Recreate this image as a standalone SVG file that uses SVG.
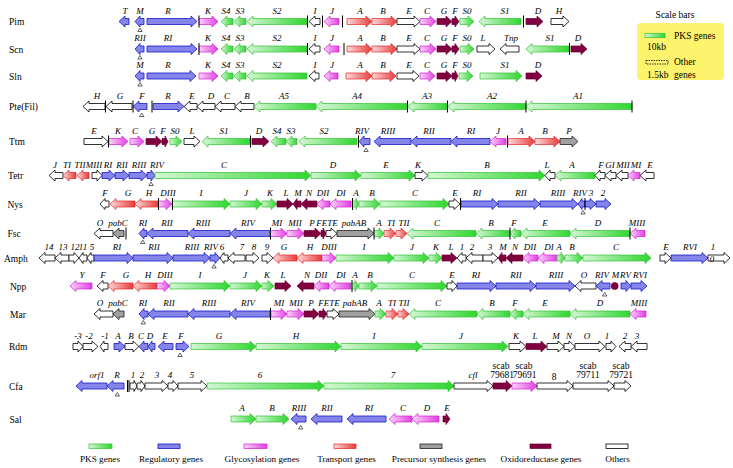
<svg xmlns="http://www.w3.org/2000/svg" width="733" height="468" viewBox="0 0 733 468">
<defs>
<linearGradient id="gPk"><stop offset="0" stop-color="#d4f7d4"/><stop offset="1" stop-color="#2fd62f"/></linearGradient>
<linearGradient id="gGl"><stop offset="0" stop-color="#fbd4fb"/><stop offset="1" stop-color="#e23ee2"/></linearGradient>
<linearGradient id="gTr"><stop offset="0" stop-color="#ffdada"/><stop offset="1" stop-color="#e83a3a"/></linearGradient>
<style>
.pk{fill:url(#gPk);stroke:#33c033;stroke-width:.7}
.rg{fill:#8484ea;stroke:#1818c8;stroke-width:.8}
.gl{fill:url(#gGl);stroke:#d020d0;stroke-width:.7}
.tr{fill:url(#gTr);stroke:#e02828;stroke-width:.7}
.ox{fill:#800040;stroke:#6a0030;stroke-width:.7}
.pr{fill:#a0a0a0;stroke:#202020;stroke-width:.8}
.ot{fill:#fff;stroke:#000;stroke-width:.8}
.bar{fill:none;stroke:#000;stroke-width:1}
.tri{fill:#fff;stroke:#000;stroke-width:.6}
text{font-family:"Liberation Serif","Times New Roman",serif;fill:#000}
.lb{font-size:9px;font-style:italic;text-anchor:middle}
.up{font-size:9.5px;text-anchor:middle}
.rn{font-size:9.5px}
.lg{font-size:9.2px;text-anchor:middle}
</style>
</defs>
<rect width="733" height="468" fill="#fff"/>

<g id="Pim" transform="translate(0,21.5)">
<text class="rn" x="9" y="3.5">Pim</text>
<path class="rg" d="M129,-3H125V-5.5L119,0L125,5.5V3H129z"/>
<path class="rg" d="M144,-3H140V-5.5L135,0L140,5.5V3H144z"/>
<path class="rg" d="M147,-3H191V-5.5L197,0L191,5.5V3H147z"/>
<path class="gl" d="M199,-3H212V-5.5L218,0L212,5.5V3H199z"/>
<path class="pk" d="M233,-3H227V-5.5L221,0L227,5.5V3H233z"/>
<path class="pk" d="M246,-3H240V-5.5L234,0L240,5.5V3H246z"/>
<path class="pk" d="M307,-3H253V-5.5L247,0L253,5.5V3H307z"/>
<path class="ot" d="M320,-3H315V-5.5L309,0L315,5.5V3H320z"/>
<path class="gl" d="M339,-3H330V-5.5L324,0L330,5.5V3H339z"/>
<path class="tr" d="M347,-3H366V-5.5L372,0L366,5.5V3H347z"/>
<path class="tr" d="M372,-3H391V-5.5L397,0L391,5.5V3H372z"/>
<path class="ot" d="M397,-3H414V-5.5L420,0L414,5.5V3H397z"/>
<path class="gl" d="M420,-3H430V-5.5L436,0L430,5.5V3H420z"/>
<path class="ox" d="M437,-3H446V-5.5L452,0L446,5.5V3H437z"/>
<path class="ox" d="M452,-3H455V-5.5L459,0L455,5.5V3H452z"/>
<path class="pk" d="M460,-3H468V-5.5L474,0L468,5.5V3H460z"/>
<path class="pk" d="M521,-3H485V-5.5L479,0L485,5.5V3H521z"/>
<path class="ox" d="M526,-3H537V-5.5L543,0L537,5.5V3H526z"/>
<path class="ot" d="M551,-3H563V-5.5L569,0L563,5.5V3H551z"/>
<path class="bar" d="M199,-6v12M307.5,-6v12M322.5,-6v12M342.5,-6v12M523.5,-6v12"/>
<path class="tri" d="M140,6.5l2.2,3.5h-4.4z"/>
<text class="lb" y="-8"><tspan x="125">T</tspan><tspan x="140">M</tspan><tspan x="168">R</tspan><tspan x="208">K</tspan><tspan x="226">S4</tspan><tspan x="240">S3</tspan><tspan x="277">S2</tspan><tspan x="315">I</tspan><tspan x="332">J</tspan><tspan x="360">A</tspan><tspan x="383">B</tspan><tspan x="409">E</tspan><tspan x="427">C</tspan><tspan x="444">G</tspan><tspan x="455">F</tspan><tspan x="467">S0</tspan><tspan x="505">S1</tspan><tspan x="538">D</tspan><tspan x="559">H</tspan></text>
</g>

<g id="Scn" transform="translate(0,49)">
<text class="rn" x="9" y="3.5">Scn</text>
<path class="rg" d="M144,-3H140V-5.5L135,0L140,5.5V3H144z"/>
<path class="rg" d="M147,-3H191V-5.5L197,0L191,5.5V3H147z"/>
<path class="gl" d="M199,-3H212V-5.5L218,0L212,5.5V3H199z"/>
<path class="pk" d="M233,-3H227V-5.5L221,0L227,5.5V3H233z"/>
<path class="pk" d="M246,-3H240V-5.5L234,0L240,5.5V3H246z"/>
<path class="pk" d="M307,-3H253V-5.5L247,0L253,5.5V3H307z"/>
<path class="ot" d="M320,-3H315V-5.5L309,0L315,5.5V3H320z"/>
<path class="gl" d="M339,-3H330V-5.5L324,0L330,5.5V3H339z"/>
<path class="tr" d="M347,-3H366V-5.5L372,0L366,5.5V3H347z"/>
<path class="tr" d="M372,-3H391V-5.5L397,0L391,5.5V3H372z"/>
<path class="ot" d="M397,-3H414V-5.5L420,0L414,5.5V3H397z"/>
<path class="gl" d="M420,-3H430V-5.5L436,0L430,5.5V3H420z"/>
<path class="ox" d="M437,-3H446V-5.5L452,0L446,5.5V3H437z"/>
<path class="ox" d="M452,-3H455V-5.5L459,0L455,5.5V3H452z"/>
<path class="pk" d="M460,-3H468V-5.5L474,0L468,5.5V3H460z"/>
<path class="ot" d="M477,-3H489V-5.5L495,0L489,5.5V3H477z"/>
<path class="ot" d="M519,-3H506V-5.5L500,0L506,5.5V3H519z"/>
<path class="pk" d="M569,-3H532V-5.5L526,0L532,5.5V3H569z"/>
<path class="ox" d="M571,-3H581V-5.5L587,0L581,5.5V3H571z"/>
<path class="bar" d="M199,-6v12M307.5,-6v12M344,-6v12M569.5,-6v12"/>
<path class="tri" d="M140,6.5l2.2,3.5h-4.4z"/>
<text class="lb" y="-8"><tspan x="140">RII</tspan><tspan x="168">RI</tspan><tspan x="208">K</tspan><tspan x="226">S4</tspan><tspan x="240">S3</tspan><tspan x="277">S2</tspan><tspan x="315">I</tspan><tspan x="332">J</tspan><tspan x="360">A</tspan><tspan x="383">B</tspan><tspan x="409">E</tspan><tspan x="427">C</tspan><tspan x="444">G</tspan><tspan x="455">F</tspan><tspan x="467">S0</tspan><tspan x="483">L</tspan><tspan x="511">Tnp</tspan><tspan x="550">S1</tspan><tspan x="578">D</tspan></text>
</g>

<g id="Sln" transform="translate(0,76)">
<text class="rn" x="9" y="3.5">Sln</text>
<path class="rg" d="M144,-3H140V-5.5L135,0L140,5.5V3H144z"/>
<path class="rg" d="M147,-3H190V-5.5L196,0L190,5.5V3H147z"/>
<path class="gl" d="M199,-3H212V-5.5L218,0L212,5.5V3H199z"/>
<path class="pk" d="M233,-3H227V-5.5L221,0L227,5.5V3H233z"/>
<path class="pk" d="M246,-3H240V-5.5L234,0L240,5.5V3H246z"/>
<path class="pk" d="M307,-3H253V-5.5L247,0L253,5.5V3H307z"/>
<path class="ot" d="M319,-3H315V-5.5L309,0L315,5.5V3H319z"/>
<path class="gl" d="M338,-3H330V-5.5L324,0L330,5.5V3H338z"/>
<path class="tr" d="M346,-3H366V-5.5L372,0L366,5.5V3H346z"/>
<path class="tr" d="M372,-3H390V-5.5L396,0L390,5.5V3H372z"/>
<path class="ot" d="M397,-3H413V-5.5L419,0L413,5.5V3H397z"/>
<path class="gl" d="M420,-3H429V-5.5L435,0L429,5.5V3H420z"/>
<path class="ox" d="M437,-3H446V-5.5L452,0L446,5.5V3H437z"/>
<path class="ox" d="M452,-3H455V-5.5L458,0L455,5.5V3H452z"/>
<path class="pk" d="M459,-3H467V-5.5L473,0L467,5.5V3H459z"/>
<path class="pk" d="M480,-3H516V-5.5L522,0L516,5.5V3H480z"/>
<path class="ox" d="M526,-3H536V-5.5L542,0L536,5.5V3H526z"/>
<path class="tri" d="M140,6.5l2.2,3.5h-4.4z"/>
<text class="lb" y="-8"><tspan x="140">M</tspan><tspan x="168">R</tspan><tspan x="208">K</tspan><tspan x="226">S4</tspan><tspan x="240">S3</tspan><tspan x="277">S2</tspan><tspan x="315">I</tspan><tspan x="332">J</tspan><tspan x="360">A</tspan><tspan x="383">B</tspan><tspan x="409">E</tspan><tspan x="427">C</tspan><tspan x="444">G</tspan><tspan x="455">F</tspan><tspan x="467">S0</tspan><tspan x="505">S1</tspan><tspan x="538">D</tspan></text>
</g>

<g id="Pte" transform="translate(0,106.5)">
<text class="rn" x="9" y="3.5">Pte(Fil)</text>
<path class="ot" d="M105,-3H89V-5.5L83,0L89,5.5V3H105z"/>
<path class="ot" d="M132,-3H112V-5.5L106,0L112,5.5V3H132z"/>
<path class="rg" d="M147,-3H139V-5.5L133,0L139,5.5V3H147z"/>
<path class="rg" d="M153,-3H178V-5.5L184,0L178,5.5V3H153z"/>
<path class="ot" d="M197,-3H190V-5.5L184,0L190,5.5V3H197z"/>
<path class="ot" d="M215,-3H203V-5.5L197,0L203,5.5V3H215z"/>
<path class="ot" d="M235,-3H221V-5.5L215,0L221,5.5V3H235z"/>
<path class="ot" d="M254,-3H241V-5.5L235,0L241,5.5V3H254z"/>
<path class="pk" d="M316,-3H260V-5.5L254,0L260,5.5V3H316z"/>
<path class="pk" d="M407,-3H322V-5.5L316,0L322,5.5V3H407z"/>
<path class="pk" d="M447,-3H414V-5.5L408,0L414,5.5V3H447z"/>
<path class="pk" d="M526,-3H454V-5.5L448,0L454,5.5V3H526z"/>
<path class="pk" d="M632,-3H532V-5.5L526,0L532,5.5V3H632z"/>
<path class="bar" d="M105.5,-6v12M133,-6v12M152,-6v12M407.5,-6v12M447.5,-6v12M526,-6v12M632,-6v12"/>
<path class="tri" d="M141.7,6.5l2.2,3.5h-4.4z"/>
<text class="lb" y="-8"><tspan x="97">H</tspan><tspan x="120">G</tspan><tspan x="142">F</tspan><tspan x="168">R</tspan><tspan x="192">E</tspan><tspan x="211">D</tspan><tspan x="227">C</tspan><tspan x="247">B</tspan><tspan x="284">A5</tspan><tspan x="357">A4</tspan><tspan x="427">A3</tspan><tspan x="492">A2</tspan><tspan x="578">A1</tspan></text>
</g>

<g id="Ttm" transform="translate(0,141.5)">
<text class="rn" x="9" y="3.5">Ttm</text>
<path class="ot" d="M84,-3H102V-5.5L108,0L102,5.5V3H84z"/>
<path class="gl" d="M109,-3H122V-5.5L128,0L122,5.5V3H109z"/>
<path class="gl" d="M130,-3H138V-5.5L144,0L138,5.5V3H130z"/>
<path class="ox" d="M146,-3H156V-5.5L162,0L156,5.5V3H146z"/>
<path class="ox" d="M162,-3H165V-5.5L168,0L165,5.5V3H162z"/>
<path class="pk" d="M170,-3H176V-5.5L182,0L176,5.5V3H170z"/>
<path class="ot" d="M184,-3H194V-5.5L200,0L194,5.5V3H184z"/>
<path class="pk" d="M250,-3H208V-5.5L202,0L208,5.5V3H250z"/>
<path class="ox" d="M252,-3H263V-5.5L269,0L263,5.5V3H252z"/>
<path class="pk" d="M286,-3H277V-5.5L271,0L277,5.5V3H286z"/>
<path class="pk" d="M297,-3H292V-5.5L286,0L292,5.5V3H297z"/>
<path class="pk" d="M357,-3H305V-5.5L299,0L305,5.5V3H357z"/>
<path class="rg" d="M370,-3H364V-5.5L359,0L364,5.5V3H370z"/>
<path class="rg" d="M411,-3H380V-5.5L374,0L380,5.5V3H411z"/>
<path class="rg" d="M451,-3H417V-5.5L411,0L417,5.5V3H451z"/>
<path class="rg" d="M490,-3H457V-5.5L451,0L457,5.5V3H490z"/>
<path class="gl" d="M506,-3H496V-5.5L490,0L496,5.5V3H506z"/>
<path class="tr" d="M508,-3H529V-5.5L535,0L529,5.5V3H508z"/>
<path class="tr" d="M535,-3H554V-5.5L560,0L554,5.5V3H535z"/>
<path class="pr" d="M560,-3H572V-5.5L578,0L572,5.5V3H560z"/>
<path class="bar" d="M108.5,-6v12M250.5,-6v12M358.5,-6v12M507.5,-6v12"/>
<path class="tri" d="M366,6.5l2.2,3.5h-4.4z"/>
<text class="lb" y="-8"><tspan x="94">E</tspan><tspan x="118">K</tspan><tspan x="135">C</tspan><tspan x="152">G</tspan><tspan x="163">F</tspan><tspan x="175">S0</tspan><tspan x="192">L</tspan><tspan x="224">S1</tspan><tspan x="259">D</tspan><tspan x="277">S4</tspan><tspan x="291">S3</tspan><tspan x="324">S2</tspan><tspan x="362">RIV</tspan><tspan x="388">RIII</tspan><tspan x="429">RII</tspan><tspan x="471">RI</tspan><tspan x="498">J</tspan><tspan x="521">A</tspan><tspan x="545">B</tspan><tspan x="569">P</tspan></text>
</g>

<g id="Tetr" transform="translate(0,175.5)">
<text class="rn" x="8" y="3.5">Tetr</text>
<path class="ot" d="M63,-3H55V-5.5L49,0L55,5.5V3H63z"/>
<path class="tr" d="M76,-3H69V-5.5L63,0L69,5.5V3H76z"/>
<path class="tr" d="M89,-3H83V-5.5L77,0L83,5.5V3H89z"/>
<path class="ot" d="M92,-3H97V-5.5L102,0L97,5.5V3H92z"/>
<path class="rg" d="M102,-3H109V-5.5L115,0L109,5.5V3H102z"/>
<path class="rg" d="M115,-3H123V-5.5L129,0L123,5.5V3H115z"/>
<path class="rg" d="M129,-3H141V-5.5L147,0L141,5.5V3H129z"/>
<path class="rg" d="M147,-3H151V-5.5L155,0L151,5.5V3H147z"/>
<path class="pk" d="M155,-3H305V-5.5L311,0L305,5.5V3H155z"/>
<path class="pk" d="M311,-3H355V-5.5L361,0L355,5.5V3H311z"/>
<path class="pk" d="M361,-3H409V-5.5L415,0L409,5.5V3H361z"/>
<path class="ot" d="M415,-3H422V-5.5L428,0L422,5.5V3H415z"/>
<path class="pk" d="M428,-3H539V-5.5L545,0L539,5.5V3H428z"/>
<path class="ot" d="M555,-3H550V-5.5L545,0L550,5.5V3H555z"/>
<path class="pk" d="M595,-3H561V-5.5L555,0L561,5.5V3H595z"/>
<path class="ot" d="M605,-3H600V-5.5L595,0L600,5.5V3H605z"/>
<path class="ot" d="M616,-3H611V-5.5L605,0L611,5.5V3H616z"/>
<path class="ot" d="M628,-3H622V-5.5L616,0L622,5.5V3H628z"/>
<path class="gl" d="M640,-3H634V-5.5L628,0L634,5.5V3H640z"/>
<path class="ot" d="M654,-3H646V-5.5L640,0L646,5.5V3H654z"/>
<path class="tri" d="M151,6.5l2.2,3.5h-4.4z"/>
<text class="lb" y="-8"><tspan x="55">J</tspan><tspan x="67">TI</tspan><tspan x="80">TII</tspan><tspan x="94">MIII</tspan><tspan x="108">RI</tspan><tspan x="122">RII</tspan><tspan x="139">RIII</tspan><tspan x="157">RIV</tspan><tspan x="224">C</tspan><tspan x="333">D</tspan><tspan x="386">E</tspan><tspan x="418">K</tspan><tspan x="487">B</tspan><tspan x="547">L</tspan><tspan x="572">A</tspan><tspan x="601">F</tspan><tspan x="610">GI</tspan><tspan x="623">MII</tspan><tspan x="636">MI</tspan><tspan x="650">E</tspan></text>
</g>

<g id="Nys" transform="translate(0,204)">
<text class="rn" x="7.5" y="3.5">Nys</text>
<path class="ot" d="M109,-3H105V-5.5L100,0L105,5.5V3H109z"/>
<path class="tr" d="M135,-3H116V-5.5L110,0L116,5.5V3H135z"/>
<path class="tr" d="M158,-3H141V-5.5L135,0L141,5.5V3H158z"/>
<path class="gl" d="M158,-3H166V-5.5L172,0L166,5.5V3H158z"/>
<path class="pk" d="M172,-3H224V-5.5L230,0L224,5.5V3H172z"/>
<path class="pk" d="M230,-3H256V-5.5L262,0L256,5.5V3H230z"/>
<path class="pk" d="M262,-3H271V-5.5L277,0L271,5.5V3H262z"/>
<path class="ox" d="M277,-3H287V-5.5L293,0L287,5.5V3H277z"/>
<path class="ox" d="M301,-3H297V-5.5L293,0L297,5.5V3H301z"/>
<path class="ox" d="M317,-3H307V-5.5L301,0L307,5.5V3H317z"/>
<path class="gl" d="M330,-3H323V-5.5L317,0L323,5.5V3H330z"/>
<path class="gl" d="M351,-3H336V-5.5L330,0L336,5.5V3H351z"/>
<path class="pk" d="M352,-3H356V-5.5L359,0L356,5.5V3H352z"/>
<path class="pk" d="M359,-3H374V-5.5L380,0L374,5.5V3H359z"/>
<path class="pk" d="M380,-3H443V-5.5L449,0L443,5.5V3H380z"/>
<path class="ot" d="M449,-3H454V-5.5L460,0L454,5.5V3H449z"/>
<path class="rg" d="M461,-3H492V-5.5L498,0L492,5.5V3H461z"/>
<path class="rg" d="M498,-3H534V-5.5L540,0L534,5.5V3H498z"/>
<path class="rg" d="M540,-3H572V-5.5L578,0L572,5.5V3H540z"/>
<path class="rg" d="M585,-3H582V-5.5L578,0L582,5.5V3H585z"/>
<path class="rg" d="M585,-3H590V-5.5L596,0L590,5.5V3H585z"/>
<path class="rg" d="M596,-3H605V-5.5L611,0L605,5.5V3H596z"/>
<path class="bar" d="M158.5,-6v12M172.5,-6v12M352.5,-6v12M460.5,-6v12M585,-6v12"/>
<path class="tri" d="M583,6.5l2.2,3.5h-4.4z"/>
<text class="lb" y="-8"><tspan x="105">F</tspan><tspan x="128">G</tspan><tspan x="149">H</tspan><tspan x="168">DIII</tspan><tspan x="201">I</tspan><tspan x="246">J</tspan><tspan x="270">K</tspan><tspan x="286">L</tspan><tspan x="298">M</tspan><tspan x="309">N</tspan><tspan x="323">DII</tspan><tspan x="341">DI</tspan><tspan x="356">A</tspan><tspan x="372">B</tspan><tspan x="415">C</tspan><tspan x="455">E</tspan><tspan x="477">RI</tspan><tspan x="521">RII</tspan><tspan x="558">RIII</tspan><tspan x="580">RIV</tspan><tspan x="591">3</tspan><tspan x="603">2</tspan></text>
</g>

<g id="Fsc" transform="translate(0,233.5)">
<text class="rn" x="7.5" y="3.5">Fsc</text>
<path class="ot" d="M113,-3H100V-5.5L94,0L100,5.5V3H113z"/>
<path class="pr" d="M124,-3H119V-5.5L113,0L119,5.5V3H124z"/>
<path class="rg" d="M147,-3H144V-5.5L139,0L144,5.5V3H147z"/>
<path class="rg" d="M188,-3H153V-5.5L147,0L153,5.5V3H188z"/>
<path class="rg" d="M230,-3H194V-5.5L188,0L194,5.5V3H230z"/>
<path class="rg" d="M270,-3H236V-5.5L230,0L236,5.5V3H270z"/>
<path class="gl" d="M270,-3H281V-5.5L287,0L281,5.5V3H270z"/>
<path class="gl" d="M287,-3H298V-5.5L304,0L298,5.5V3H287z"/>
<path class="ox" d="M304,-3H315V-5.5L321,0L315,5.5V3H304z"/>
<path class="ox" d="M321,-3H323V-5.5L326,0L323,5.5V3H321z"/>
<path class="ot" d="M326,-3H331V-5.5L337,0L331,5.5V3H326z"/>
<path class="pr" d="M337,-3H368V-5.5L374,0L368,5.5V3H337z"/>
<path class="pk" d="M374,-3H379V-5.5L384,0L379,5.5V3H374z"/>
<path class="tr" d="M384,-3H390V-5.5L396,0L390,5.5V3H384z"/>
<path class="tr" d="M396,-3H401V-5.5L407,0L401,5.5V3H396z"/>
<path class="pk" d="M476,-3H413V-5.5L407,0L413,5.5V3H476z"/>
<path class="pk" d="M510,-3H482V-5.5L476,0L482,5.5V3H510z"/>
<path class="pk" d="M521,-3H515V-5.5L510,0L515,5.5V3H521z"/>
<path class="pk" d="M570,-3H527V-5.5L521,0L527,5.5V3H570z"/>
<path class="pk" d="M630,-3H576V-5.5L570,0L576,5.5V3H630z"/>
<path class="gl" d="M645,-3H636V-5.5L630,0L636,5.5V3H645z"/>
<path class="bar" d="M126,-6v12M270.5,-6v12M374,-6v12M510,-6v12M630,-6v12"/>
<path class="tri" d="M142.7,6.5l2.2,3.5h-4.4z"/>
<text class="lb" y="-8"><tspan x="100">O</tspan><tspan x="118">pabC</tspan><tspan x="143">RI</tspan><tspan x="167">RII</tspan><tspan x="203">RIII</tspan><tspan x="248">RIV</tspan><tspan x="277">MI</tspan><tspan x="295">MII</tspan><tspan x="312">P</tspan><tspan x="327">FETE</tspan><tspan x="354">pabAB</tspan><tspan x="379">A</tspan><tspan x="391">TI</tspan><tspan x="404">TII</tspan><tspan x="437">C</tspan><tspan x="491">B</tspan><tspan x="514">F</tspan><tspan x="545">E</tspan><tspan x="598">D</tspan><tspan x="637">MIII</tspan></text>
</g>

<g id="Amph" transform="translate(0,258)">
<text class="rn" x="4" y="3.5">Amph</text>
<path class="ot" d="M55,-3H45V-5.5L39,0L45,5.5V3H55z"/>
<path class="ot" d="M69,-3H61V-5.5L55,0L61,5.5V3H69z"/>
<path class="ot" d="M69,-3H74V-5.5L79,0L74,5.5V3H69z"/>
<path class="ot" d="M87,-3H83V-5.5L79,0L83,5.5V3H87z"/>
<path class="ot" d="M94,-3H91V-5.5L87,0L91,5.5V3H94z"/>
<path class="rg" d="M94,-3H127V-5.5L133,0L127,5.5V3H94z"/>
<path class="rg" d="M133,-3H167V-5.5L173,0L167,5.5V3H133z"/>
<path class="rg" d="M173,-3H204V-5.5L210,0L204,5.5V3H173z"/>
<path class="rg" d="M210,-3H215V-5.5L220,0L215,5.5V3H210z"/>
<path class="ot" d="M228,-3H224V-5.5L220,0L224,5.5V3H228z"/>
<path class="ot" d="M245,-3H234V-5.5L228,0L234,5.5V3H245z"/>
<path class="ot" d="M246,-3H253V-5.5L259,0L253,5.5V3H246z"/>
<path class="ot" d="M262,-3H267V-5.5L273,0L267,5.5V3H262z"/>
<path class="tr" d="M297,-3H279V-5.5L273,0L279,5.5V3H297z"/>
<path class="tr" d="M322,-3H303V-5.5L297,0L303,5.5V3H322z"/>
<path class="gl" d="M322,-3H330V-5.5L336,0L330,5.5V3H322z"/>
<path class="pk" d="M336,-3H388V-5.5L394,0L388,5.5V3H336z"/>
<path class="pk" d="M394,-3H423V-5.5L429,0L423,5.5V3H394z"/>
<path class="pk" d="M429,-3H436V-5.5L442,0L436,5.5V3H429z"/>
<path class="ox" d="M442,-3H451V-5.5L457,0L451,5.5V3H442z"/>
<path class="ot" d="M466,-3H462V-5.5L457,0L462,5.5V3H466z"/>
<path class="ot" d="M483,-3H472V-5.5L466,0L472,5.5V3H483z"/>
<path class="ot" d="M483,-3H492V-5.5L498,0L492,5.5V3H483z"/>
<path class="ox" d="M506,-3H502V-5.5L498,0L502,5.5V3H506z"/>
<path class="ox" d="M523,-3H512V-5.5L506,0L512,5.5V3H523z"/>
<path class="gl" d="M538,-3H529V-5.5L523,0L529,5.5V3H538z"/>
<path class="gl" d="M557,-3H544V-5.5L538,0L544,5.5V3H557z"/>
<path class="pk" d="M557,-3H561V-5.5L565,0L561,5.5V3H557z"/>
<path class="pk" d="M565,-3H577V-5.5L583,0L577,5.5V3H565z"/>
<path class="pk" d="M583,-3H645V-5.5L651,0L645,5.5V3H583z"/>
<path class="ot" d="M660,-3H665V-5.5L671,0L665,5.5V3H660z"/>
<path class="rg" d="M671,-3H702V-5.5L708,0L702,5.5V3H671z"/>
<path class="ot" d="M708,-3H724V-5.5L730,0L724,5.5V3H708z"/>
<path class="tri" d="M214,6.5l2.2,3.5h-4.4z"/>
<text class="lb" y="-8"><tspan x="49">14</tspan><tspan x="63">13</tspan><tspan x="75">12</tspan><tspan x="83">11</tspan><tspan x="92">5</tspan><tspan x="117">RI</tspan><tspan x="154">RII</tspan><tspan x="192">RIII</tspan><tspan x="211">RIV</tspan><tspan x="222">6</tspan><tspan x="242">7</tspan><tspan x="254">8</tspan><tspan x="267">9</tspan><tspan x="284">G</tspan><tspan x="310">H</tspan><tspan x="329">DIII</tspan><tspan x="364">I</tspan><tspan x="412">J</tspan><tspan x="436">K</tspan><tspan x="451">L</tspan><tspan x="462">1</tspan><tspan x="472">2</tspan><tspan x="490">3</tspan><tspan x="503">M</tspan><tspan x="515">N</tspan><tspan x="530">DII</tspan><tspan x="549">DI</tspan><tspan x="559">A</tspan><tspan x="572">B</tspan><tspan x="616">C</tspan><tspan x="666">E</tspan><tspan x="690">RVI</tspan><tspan x="713">1</tspan></text>
<text class="lb" x="712" y="4">0</text>
</g>

<g id="Npp" transform="translate(0,286)">
<text class="rn" x="10" y="3.5">Npp</text>
<path class="gl" d="M92,-3H76V-5.5L70,0L76,5.5V3H92z"/>
<path class="ot" d="M108,-3H103V-5.5L97,0L103,5.5V3H108z"/>
<path class="tr" d="M133,-3H114V-5.5L108,0L114,5.5V3H133z"/>
<path class="tr" d="M157,-3H139V-5.5L133,0L139,5.5V3H157z"/>
<path class="gl" d="M157,-3H164V-5.5L170,0L164,5.5V3H157z"/>
<path class="pk" d="M170,-3H224V-5.5L230,0L224,5.5V3H170z"/>
<path class="pk" d="M230,-3H256V-5.5L262,0L256,5.5V3H230z"/>
<path class="pk" d="M262,-3H268V-5.5L274,0L268,5.5V3H262z"/>
<path class="ox" d="M275,-3H285V-5.5L291,0L285,5.5V3H275z"/>
<path class="ox" d="M314,-3H303V-5.5L297,0L303,5.5V3H314z"/>
<path class="gl" d="M329,-3H320V-5.5L314,0L320,5.5V3H329z"/>
<path class="gl" d="M351,-3H335V-5.5L329,0L335,5.5V3H351z"/>
<path class="pk" d="M351,-3H355V-5.5L359,0L355,5.5V3H351z"/>
<path class="pk" d="M359,-3H371V-5.5L377,0L371,5.5V3H359z"/>
<path class="pk" d="M377,-3H441V-5.5L447,0L441,5.5V3H377z"/>
<path class="ot" d="M447,-3H452V-5.5L457,0L452,5.5V3H447z"/>
<path class="rg" d="M457,-3H490V-5.5L496,0L490,5.5V3H457z"/>
<path class="rg" d="M496,-3H530V-5.5L536,0L530,5.5V3H496z"/>
<path class="rg" d="M536,-3H569V-5.5L575,0L569,5.5V3H536z"/>
<path class="ot" d="M596,-3H581V-5.5L575,0L581,5.5V3H596z"/>
<path class="rg" d="M610,-3H602V-5.5L596,0L602,5.5V3H610z"/>
<circle class="ox" cx="614.7" cy="0" r="3.5"/>
<path class="rg" d="M621,-3H626V-5.5L631,0L626,5.5V3H621z"/>
<path class="rg" d="M631,-3H641V-5.5L647,0L641,5.5V3H631z"/>
<path class="bar" d="M352,-6v12"/>
<path class="tri" d="M604.7,6.5l2.2,3.5h-4.4z"/>
<text class="lb" y="-8"><tspan x="82">Y</tspan><tspan x="103">F</tspan><tspan x="126">G</tspan><tspan x="148">H</tspan><tspan x="165">DIII</tspan><tspan x="200">I</tspan><tspan x="245">J</tspan><tspan x="267">K</tspan><tspan x="283">L</tspan><tspan x="307">N</tspan><tspan x="321">DII</tspan><tspan x="341">DI</tspan><tspan x="355">A</tspan><tspan x="370">B</tspan><tspan x="412">C</tspan><tspan x="452">E</tspan><tspan x="476">RI</tspan><tspan x="516">RII</tspan><tspan x="556">RIII</tspan><tspan x="584">O</tspan><tspan x="602">RIV</tspan><tspan x="615.5">M</tspan><tspan x="625.5">RV</tspan><tspan x="640">RVI</tspan></text>
</g>

<g id="Mar" transform="translate(0,314)">
<text class="rn" x="10" y="3.5">Mar</text>
<path class="ot" d="M113,-3H100V-5.5L94,0L100,5.5V3H113z"/>
<path class="pr" d="M124,-3H119V-5.5L113,0L119,5.5V3H124z"/>
<path class="rg" d="M148,-3H144V-5.5L139,0L144,5.5V3H148z"/>
<path class="rg" d="M188,-3H154V-5.5L148,0L154,5.5V3H188z"/>
<path class="rg" d="M230,-3H194V-5.5L188,0L194,5.5V3H230z"/>
<path class="rg" d="M270,-3H236V-5.5L230,0L236,5.5V3H270z"/>
<path class="gl" d="M271,-3H281V-5.5L287,0L281,5.5V3H271z"/>
<path class="gl" d="M287,-3H298V-5.5L304,0L298,5.5V3H287z"/>
<path class="ox" d="M304,-3H313V-5.5L319,0L313,5.5V3H304z"/>
<path class="ox" d="M319,-3H323V-5.5L327,0L323,5.5V3H319z"/>
<path class="ot" d="M327,-3H333V-5.5L339,0L333,5.5V3H327z"/>
<path class="pr" d="M339,-3H369V-5.5L375,0L369,5.5V3H339z"/>
<path class="pk" d="M375,-3H380V-5.5L386,0L380,5.5V3H375z"/>
<path class="tr" d="M386,-3H392V-5.5L398,0L392,5.5V3H386z"/>
<path class="tr" d="M398,-3H403V-5.5L409,0L403,5.5V3H398z"/>
<path class="pk" d="M477,-3H415V-5.5L409,0L415,5.5V3H477z"/>
<path class="pk" d="M510,-3H483V-5.5L477,0L483,5.5V3H510z"/>
<path class="pk" d="M523,-3H516V-5.5L510,0L516,5.5V3H523z"/>
<path class="pk" d="M570,-3H529V-5.5L523,0L529,5.5V3H570z"/>
<path class="pk" d="M630,-3H576V-5.5L570,0L576,5.5V3H630z"/>
<path class="gl" d="M646,-3H636V-5.5L630,0L636,5.5V3H646z"/>
<path class="bar" d="M270.5,-6v12"/>
<path class="tri" d="M143.3,6.5l2.2,3.5h-4.4z"/>
<text class="lb" y="-8"><tspan x="100">O</tspan><tspan x="118">pabC</tspan><tspan x="143">RI</tspan><tspan x="169">RII</tspan><tspan x="209">RIII</tspan><tspan x="248">RIV</tspan><tspan x="279">MI</tspan><tspan x="296">MII</tspan><tspan x="311">P</tspan><tspan x="329">FETE</tspan><tspan x="355">pabAB</tspan><tspan x="379">A</tspan><tspan x="392">TI</tspan><tspan x="404">TII</tspan><tspan x="438">C</tspan><tspan x="492">B</tspan><tspan x="515">F</tspan><tspan x="545">E</tspan><tspan x="600">D</tspan><tspan x="639">MIII</tspan></text>
</g>

<g id="Rdm" transform="translate(0,346.5)">
<text class="rn" x="9" y="3.5">Rdm</text>
<path class="ot" d="M73,-3H78V-5.5L83,0L78,5.5V3H73z"/>
<path class="ot" d="M83,-3H92V-5.5L98,0L92,5.5V3H83z"/>
<path class="ot" d="M108,-3H104V-5.5L100,0L104,5.5V3H108z"/>
<path class="rg" d="M114,-3H119V-5.5L125,0L119,5.5V3H114z"/>
<path class="ot" d="M125,-3H133V-5.5L139,0L133,5.5V3H125z"/>
<path class="rg" d="M148,-3H144V-5.5L139,0L144,5.5V3H148z"/>
<path class="rg" d="M155,-3H152V-5.5L148,0L152,5.5V3H155z"/>
<path class="rg" d="M173,-3H164V-5.5L158,0L164,5.5V3H173z"/>
<path class="rg" d="M176,-3H183V-5.5L189,0L183,5.5V3H176z"/>
<path class="pk" d="M191,-3H250V-5.5L256,0L250,5.5V3H191z"/>
<path class="pk" d="M256,-3H335V-5.5L341,0L335,5.5V3H256z"/>
<path class="pk" d="M341,-3H416V-5.5L422,0L416,5.5V3H341z"/>
<path class="pk" d="M422,-3H502V-5.5L508,0L502,5.5V3H422z"/>
<path class="ot" d="M509,-3H520V-5.5L526,0L520,5.5V3H509z"/>
<path class="ox" d="M526,-3H541V-5.5L547,0L541,5.5V3H526z"/>
<path class="ot" d="M547,-3H558V-5.5L564,0L558,5.5V3H547z"/>
<path class="ot" d="M564,-3H569V-5.5L575,0L569,5.5V3H564z"/>
<path class="ot" d="M575,-3H599V-5.5L605,0L599,5.5V3H575z"/>
<path class="ot" d="M606,-3H611V-5.5L616,0L611,5.5V3H606z"/>
<path class="ot" d="M631,-3H625V-5.5L619,0L625,5.5V3H631z"/>
<path class="ot" d="M647,-3H637V-5.5L631,0L637,5.5V3H647z"/>
<path class="tri" d="M180,6.5l2.2,3.5h-4.4z"/>
<text class="lb" y="-8"><tspan x="78">-3</tspan><tspan x="89">-2</tspan><tspan x="105">-1</tspan><tspan x="118">A</tspan><tspan x="131">B</tspan><tspan x="141">C</tspan><tspan x="150">D</tspan><tspan x="165">E</tspan><tspan x="181">F</tspan><tspan x="219">G</tspan><tspan x="296">H</tspan><tspan x="374">I</tspan><tspan x="461">J</tspan><tspan x="516">K</tspan><tspan x="535">L</tspan><tspan x="556">M</tspan><tspan x="569">N</tspan><tspan x="587">O</tspan><tspan x="607">1</tspan><tspan x="625">2</tspan><tspan x="637">3</tspan></text>
</g>

<g id="Cfa" transform="translate(0,386)">
<text class="rn" x="9" y="3.5">Cfa</text>
<path class="rg" d="M107,-3H82V-5.5L76,0L82,5.5V3H107z"/>
<path class="rg" d="M124,-3H113V-5.5L107,0L113,5.5V3H124z"/>
<path class="ot" d="M130,-3H134V-5.5L137,0L134,5.5V3H130z"/>
<path class="ot" d="M137,-3H141V-5.5L145,0L141,5.5V3H137z"/>
<path class="ot" d="M145,-3H162V-5.5L168,0L162,5.5V3H145z"/>
<path class="ot" d="M168,-3H173V-5.5L178,0L173,5.5V3H168z"/>
<path class="ot" d="M178,-3H201V-5.5L207,0L201,5.5V3H178z"/>
<path class="pk" d="M207,-3H318V-5.5L324,0L318,5.5V3H207z"/>
<path class="pk" d="M324,-3H448V-5.5L454,0L448,5.5V3H324z"/>
<path class="ot" d="M454,-3H487V-5.5L493,0L487,5.5V3H454z"/>
<path class="ox" d="M493,-3H506V-5.5L512,0L506,5.5V3H493z"/>
<path class="gl" d="M512,-3H531V-5.5L537,0L531,5.5V3H512z"/>
<path class="ot" d="M537,-3H567V-5.5L573,0L567,5.5V3H537z"/>
<path class="ot" d="M573,-3H608V-5.5L614,0L608,5.5V3H573z"/>
<path class="ot" d="M614,-3H625V-5.5L631,0L625,5.5V3H614z"/>
<path class="bar" d="M127.5,-6v12M129,-6v12"/>
<path class="tri" d="M117.3,6.5l2.2,3.5h-4.4z"/>
<text class="lb" y="-8"><tspan x="97">orf1</tspan><tspan x="117">R</tspan><tspan x="133">1</tspan><tspan x="142">2</tspan><tspan x="157">3</tspan><tspan x="170">4</tspan><tspan x="192">5</tspan><tspan x="260">6</tspan><tspan x="393">7</tspan><tspan x="473">cfl</tspan></text>
<text class="up" y="-17"><tspan x="501">scab</tspan><tspan x="524">scab</tspan><tspan x="588">scab</tspan><tspan x="621">scab</tspan></text>
<text class="up" y="-8"><tspan x="502">79681</tspan><tspan x="524.5">79691</tspan><tspan x="588">79711</tspan><tspan x="621">79721</tspan></text>
<text class="up" x="554" y="-6">8</text>
</g>

<g id="Sal" transform="translate(0,419)">
<text class="rn" x="9.5" y="3.5">Sal</text>
<path class="pk" d="M231,-3H250V-5.5L256,0L250,5.5V3H231z"/>
<path class="pk" d="M256,-3H283V-5.5L289,0L283,5.5V3H256z"/>
<path class="rg" d="M306,-3H297V-5.5L291,0L297,5.5V3H306z"/>
<path class="rg" d="M342,-3H317V-5.5L311,0L317,5.5V3H342z"/>
<path class="rg" d="M386,-3H353V-5.5L347,0L353,5.5V3H386z"/>
<path class="gl" d="M412,-3H395V-5.5L389,0L395,5.5V3H412z"/>
<path class="gl" d="M439,-3H418V-5.5L412,0L418,5.5V3H439z"/>
<path class="ox" d="M443,-3H446V-5.5L450,0L446,5.5V3H443z"/>
<path class="tri" d="M300.7,6.5l2.2,3.5h-4.4z"/>
<text class="lb" y="-8"><tspan x="242">A</tspan><tspan x="272">B</tspan><tspan x="299">RIII</tspan><tspan x="327">RII</tspan><tspan x="369">RI</tspan><tspan x="403">C</tspan><tspan x="427">D</tspan><tspan x="447">E</tspan></text>
</g>

<g id="scale-bars">
<text class="up" x="675" y="18">Scale bars</text>
<rect x="637" y="23" width="87" height="57" rx="4" fill="#fdf36c"/>
<rect class="pk" x="645" y="33.3" width="20" height="4.4"/>
<text class="rn" x="674" y="38.5">PKS genes</text>
<text class="rn" x="647" y="50">10kb</text>
<rect x="646" y="60.5" width="22" height="3.5" fill="none" stroke="#000" stroke-width=".8" stroke-dasharray="1.5,1"/>
<text class="rn" x="674" y="65">Other</text>
<text class="rn" x="647" y="77.5">1.5kb</text>
<text class="rn" x="674" y="77.5">genes</text>
</g>

<g id="legend">
<rect class="pk" x="89" y="444" width="23" height="4.5"/>
<rect class="rg" x="158" y="444" width="22" height="4.5"/>
<rect class="gl" x="244" y="444" width="23" height="4.5"/>
<rect class="tr" x="334" y="444" width="22" height="4.5"/>
<rect class="pr" x="420" y="444" width="22" height="4.5"/>
<rect class="ox" x="530" y="444" width="21" height="4.5"/>
<rect class="ot" x="606" y="444" width="22" height="4.5"/>
<text class="lg" y="461.5"><tspan x="100">PKS genes</tspan><tspan x="171">Regulatory genes</tspan><tspan x="262">Glycosylation genes</tspan><tspan x="346.5">Transport genes</tspan><tspan x="439">Precursor synthesis genes</tspan><tspan x="541">Oxidoreductase genes</tspan><tspan x="617.5">Others</tspan></text>
</g>
</svg>
